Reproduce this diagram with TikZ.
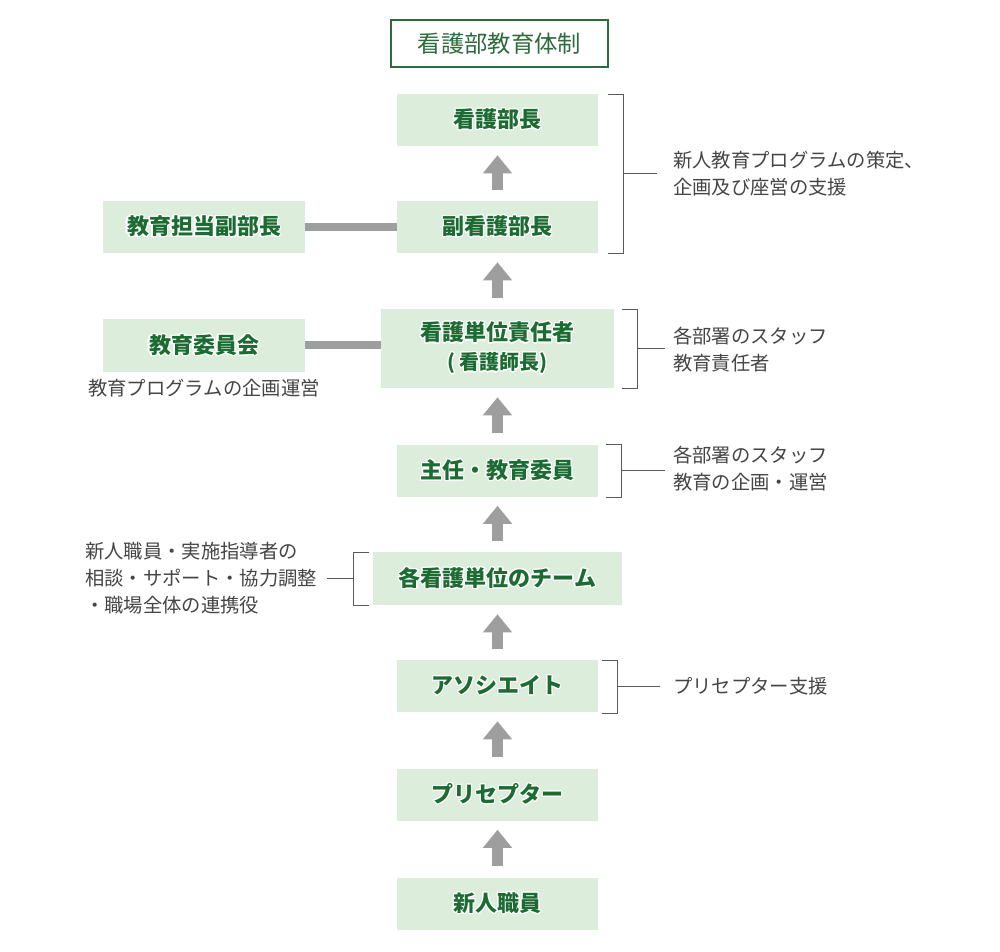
\documentclass[tikz,border=0pt]{standalone}
\usepackage{fontspec}
\usepackage{contour}
\setmainfont{Noto Sans CJK JP}
\usetikzlibrary{arrows.meta}
\definecolor{boxfill}{HTML}{DCEDDB}
\definecolor{boxtext}{HTML}{1B6B32}
\definecolor{titlecol}{HTML}{2E6B3C}
\definecolor{arrowgray}{HTML}{9E9E9E}
\definecolor{notegray}{HTML}{454545}
\definecolor{bracketgray}{HTML}{5A5A5A}
\contourlength{0.9pt}
\contournumber{16}
\begin{document}
\begin{tikzpicture}[x=0.75pt,y=-0.75pt,
  box/.style={fill=boxfill, draw=none, minimum width=150.75pt, minimum height=39pt, inner sep=0pt,
    text=boxtext, font=\fontsize{16.5}{21.75}\selectfont\bfseries, align=center},
  titlebox/.style={fill=white, draw=titlecol, line width=0.9pt, minimum width=162.75pt, minimum height=35.25pt,
    inner sep=0pt, text=titlecol, font=\fontsize{17.5}{20}\selectfont},
  uparrow/.style={draw=arrowgray, line width=8.25pt, -{Triangle[width=21pt,length=13.5pt]},
    shorten <=8.25pt, shorten >=6.75pt},
  sideline/.style={draw=arrowgray, line width=6pt},
  bracket/.style={draw=bracketgray, line width=0.75pt},
  note/.style={text=notegray, inner sep=0pt, font=\fontsize{14.5}{20.25}\selectfont, align=left}
]
\useasboundingbox (0,0) rectangle (1000,951);
\fill[white] (0,0) rectangle (1000,951);

% title
\node[titlebox] (title) at (499.5,43.5) {看護部教育体制};

% main column
\node[box] (n1) at (497.5,120) {\contour{white}{看護部長}};
\node[box] (n2) at (497.5,227) {\contour{white}{副看護部長}};
\node[box, minimum width=174.75pt, minimum height=59.25pt] (n3) at (497.5,348.5)
  {\contour{white}{看護単位責任者}\\{\fontsize{15}{21.75}\selectfont\contour{white}{( 看護師長)}}};
\node[box] (n4) at (497.5,470.5) {\contour{white}{主任・教育委員}};
\node[box, minimum width=186.75pt, minimum height=39.75pt] (n5) at (497.5,578.5) {\contour{white}{各看護単位のチーム}};
\node[box] (n6) at (497.5,686) {\contour{white}{アソシエイト}};
\node[box] (n7) at (497.5,794.5) {\contour{white}{プリセプター}};
\node[box] (n8) at (497.5,903.5) {\contour{white}{新人職員}};

% side boxes
\node[box, minimum width=151.5pt] (s1) at (204,227) {\contour{white}{教育担当副部長}};
\node[box, minimum width=151.5pt, minimum height=39.75pt] (s2) at (204,345.5) {\contour{white}{教育委員会}};

% arrows
\draw[uparrow] (n2.north) -- (n1.south);
\draw[uparrow] (n3.north) -- (n2.south);
\draw[uparrow] (n4.north) -- (n3.south);
\draw[uparrow] (n5.north) -- (n4.south);
\draw[uparrow] (n6.north) -- (n5.south);
\draw[uparrow] (n7.north) -- (n6.south);
\draw[uparrow] (n8.north) -- (n7.south);

% side connectors
\draw[sideline] (s1.east) -- (n2.west);
\draw[sideline] (s2.east |- 0,345) -- (n3.west |- 0,345);

% notes
\node[note, anchor=west] (t1) at (673,173.5) {新人教育プログラムの策定、\\企画及び座営の支援};
\node[note, anchor=west] (t2) at (673,350) {各部署のスタッフ\\教育責任者};
\node[note, anchor=west] (t3) at (673,469) {各部署のスタッフ\\教育の企画・運営};
\node[note, anchor=west] (t5) at (673,686) {プリセプター支援};
\node[note, anchor=west] (t4) at (85,578) {新人職員・実施指導者の\\相談・サポート・協力調整\\・職場全体の連携役};
\node[note, anchor=north] (t6) at (204,379) {教育プログラムの企画運営};

% brackets
\coordinate (b1) at (623,173.5);
\draw[bracket] (608,94) -- (623,94) -- (623,253) -- (608,253);
\draw[bracket] (b1) -- (657,173.5);
\coordinate (b2) at (637,348.5);
\draw[bracket] (622,309) -- (637,309) -- (637,388) -- (622,388);
\draw[bracket] (b2) -- (665,348.5);
\coordinate (b3) at (621,470.5);
\draw[bracket] (606,444) -- (621,444) -- (621,497) -- (606,497);
\draw[bracket] (b3) -- (665,470.5);
\coordinate (b4) at (353,578.5);
\draw[bracket] (369,552) -- (353,552) -- (353,605) -- (369,605);
\draw[bracket] (b4) -- (327,578.5);
\coordinate (b5) at (617,686);
\draw[bracket] (602,660) -- (617,660) -- (617,713) -- (602,713);
\draw[bracket] (b5) -- (660,686);
\end{tikzpicture}
\end{document}
